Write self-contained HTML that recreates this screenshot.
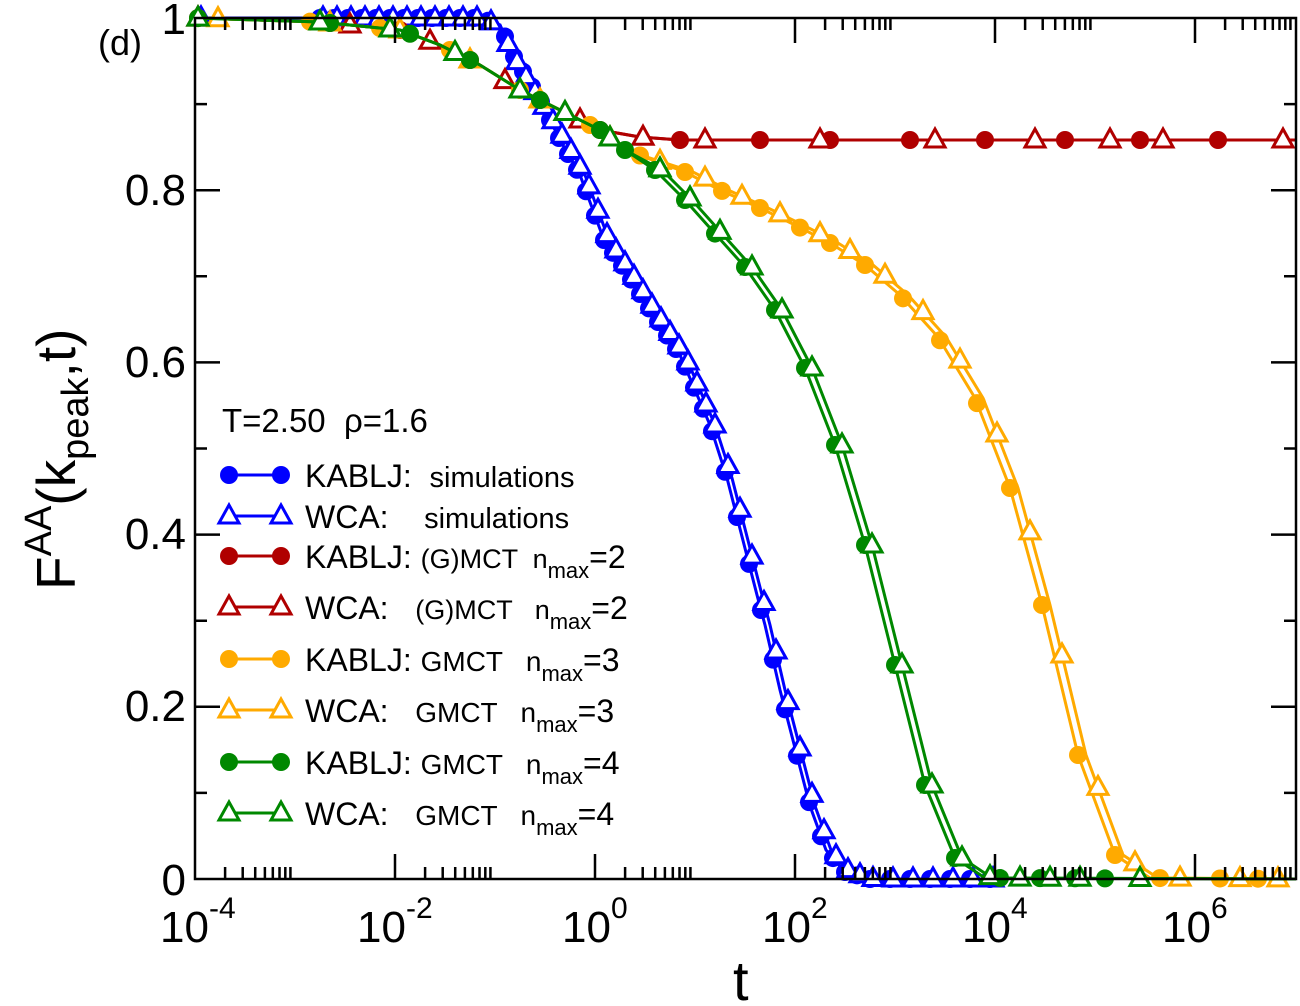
<!DOCTYPE html>
<html><head><meta charset="utf-8"><style>
html,body{margin:0;padding:0;background:#fff}
svg{display:block;font-family:"Liberation Sans",sans-serif}
text{white-space:pre}
</style></head><body>
<svg id="s" width="1300" height="1006" viewBox="0 0 1300 1006" xmlns="http://www.w3.org/2000/svg">
<g id="data"></g>
<g id="axes" fill="none" stroke="#000" stroke-width="2.5"></g>
<g font-size="44" fill="#000">
<text x="186" y="34" text-anchor="end">1</text>
<text x="186" y="205" text-anchor="end">0.8</text>
<text x="186" y="377" text-anchor="end">0.6</text>
<text x="186" y="549" text-anchor="end">0.4</text>
<text x="186" y="721" text-anchor="end">0.2</text>
<text x="186" y="895" text-anchor="end">0</text>
<text x="160" y="942">10<tspan font-size="30" dy="-24">-4</tspan></text>
<text x="357" y="942">10<tspan font-size="30" dy="-24">-2</tspan></text>
<text x="562" y="942">10<tspan font-size="30" dy="-24">0</tspan></text>
<text x="762" y="942">10<tspan font-size="30" dy="-24">2</tspan></text>
<text x="962" y="942">10<tspan font-size="30" dy="-24">4</tspan></text>
<text x="1162" y="942">10<tspan font-size="30" dy="-24">6</tspan></text>
</g>
<text x="98" y="55" font-size="36">(d)</text>
<text x="733" y="1000" font-size="56">t</text>
<g transform="translate(75,590) rotate(-90)"><text font-size="55">F<tspan font-size="38" dy="-24">AA</tspan><tspan dy="24">(k</tspan><tspan font-size="38" dy="13">peak</tspan><tspan dy="-13">,t)</tspan></text></g>
<text x="222" y="432" font-size="33">T=2.50  ρ=1.6</text>
<g id="leg"></g>
<g font-size="32" fill="#000">
<text x="305" y="487">KABLJ:  <tspan font-size="29">simulations</tspan></text>
<text x="305" y="528">WCA:    <tspan font-size="29">simulations</tspan></text>
<text x="305" y="568">KABLJ: <tspan font-size="27">(G)MCT  n</tspan><tspan font-size="22" dy="10">max</tspan><tspan font-size="32" dy="-10">=2</tspan></text>
<text x="305" y="619">WCA:   <tspan font-size="27">(G)MCT   n</tspan><tspan font-size="22" dy="10">max</tspan><tspan font-size="32" dy="-10">=2</tspan></text>
<text x="305" y="671">KABLJ: <tspan font-size="28">GMCT   n</tspan><tspan font-size="22" dy="10">max</tspan><tspan font-size="32" dy="-10">=3</tspan></text>
<text x="305" y="722">WCA:   <tspan font-size="28">GMCT   n</tspan><tspan font-size="22" dy="10">max</tspan><tspan font-size="32" dy="-10">=3</tspan></text>
<text x="305" y="774">KABLJ: <tspan font-size="28">GMCT   n</tspan><tspan font-size="22" dy="10">max</tspan><tspan font-size="32" dy="-10">=4</tspan></text>
<text x="305" y="825">WCA:   <tspan font-size="28">GMCT   n</tspan><tspan font-size="22" dy="10">max</tspan><tspan font-size="32" dy="-10">=4</tspan></text>
</g>
</svg>
<script>
var NS="http://www.w3.org/2000/svg";
function el(t,a,p){var e=document.createElementNS(NS,t);for(var k in a)e.setAttribute(k,a[k]);p.appendChild(e);return e;}
var ax=document.getElementById('axes');
el('rect',{x:195,y:18,width:1101,height:861},ax);
var d="";
for(var n=-4;n<=6;n+=2){var x=595+100*n;if(n>-4){d+="M"+x+" 879v-25M"+x+" 18v25";}
 for(var k=2;k<=9;k++){var xx=x+100*Math.log10(k);d+="M"+xx+" 879v-12M"+xx+" 18v12";}}
for(var i=1;i<10;i++){var y=879-86.1*i;var L=(i%2==0)?25:12;d+="M195 "+y+"h"+L+"M1296 "+y+"h-"+L;}
el('path',{d:d},ax);
var early=[[195,18],[320,22],[400,30],[440,45],[480,65],[520,90],[560,110],[600,130]];
var B=[[195,18],[480,18],[500,25],[513,55],[540,100],[560,140],[580,175],[604,240],[625,270],[650,310],[680,355],[710,425],[727,478],[748,560],[757,595],[765,625],[780,690],[810,806],[826,850],[845,872],[870,879],[1000,879]];
var R=early.concat([[640,137],[680,140],[1296,140]]);
var G=early.concat([[625,150],[655,170],[685,200],[710,228],[745,267],[775,310],[805,368],[835,445],[865,545],[895,665],[925,785],[955,858],[985,878],[1296,879]]);
var O=early.concat([[625,150],[685,172],[720,190],[760,208],[795,225],[830,243],[865,265],[900,295],[938,337],[975,398],[1010,488],[1042,605],[1078,755],[1115,855],[1150,878],[1296,879]]);
function shift(P,dx,from){return P.map(function(p){return p[0]>=from?[Math.min(1296,p[0]+dx),p[1]]:p;});}
function interp(P,x){for(var i=1;i<P.length;i++){if(x<=P[i][0]){var a=P[i-1],b=P[i];if(b[0]==a[0])return b[1];return a[1]+(b[1]-a[1])*(x-a[0])/(b[0]-a[0]);}}return P[P.length-1][1];}
var g=document.getElementById('data');
function tri(x,y,c,p){el('path',{d:"M"+x+" "+(y-11)+"L"+(x+10)+" "+(y+7)+"L"+(x-10)+" "+(y+7)+"Z",fill:"#fff",stroke:c,"stroke-width":3},p);}
function circ(x,y,c,p){el('circle',{cx:x,cy:y,r:9,fill:c},p);}
function series(P,c,xs,type){var pts=P.map(function(p){return p[0]+","+p[1]}).join(" ");
 el('polyline',{points:pts,fill:"none",stroke:c,"stroke-width":3},g);
 xs.forEach(function(x){var y=interp(P,x);if(type=='c')circ(x,y,c,g);else tri(x,y,c,g);});}
function rng(a,b,s){var r=[];for(var x=a;x<=b;x+=s)r.push(x);return r;}
var blueX=[198].concat(rng(320,500,14)).concat(rng(505,720,9)).concat(rng(725,860,12)).concat(rng(870,1000,20));
var BW=shift(B,5,560);
series(B,"#0000ff",blueX,'c');
series(BW,"#0000ff",blueX.map(function(x){return x+3}),'t');
series(R,"#b00000",[198,330,400,470,540,600,680,760,830,910,985,1065,1140,1218],'c');
series(shift(R,0,0),"#b00000",[198,350,430,505,580,643,705,820,935,1035,1110,1163,1283],'t');
var OX=[198,310,380,450,520,590,640,685,722,760,800,830,865,903,940,977,1010,1042,1078,1115,1160,1220,1258];
series(O,"#ffaa00",OX,'c');
series(shift(O,8,640),"#ffaa00",OX.map(function(x){return Math.min(1290,x+20)}),'t');
var GX=[198,330,410,470,540,600,625,655,685,715,745,775,805,835,865,895,925,955,1000,1040,1075,1105];
series(G,"#008800",GX,'c');
series(shift(G,7,640),"#008800",[198,320,390,455,520,565,610,660,690,720,752,782,812,842,872,902,932,962,990,1020,1050,1080,1140],'t');
var lg=document.getElementById('leg');
var rows=[[475,"#0000ff",'c'],[516,"#0000ff",'t'],[556,"#b00000",'c'],[607,"#b00000",'t'],[659,"#ffaa00",'c'],[710,"#ffaa00",'t'],[762,"#008800",'c'],[813,"#008800",'t']];
rows.forEach(function(r){el('line',{x1:229,y1:r[0],x2:281,y2:r[0],stroke:r[1],"stroke-width":3},lg);
 [229,281].forEach(function(x){if(r[2]=='c')circ(x,r[0],r[1],lg);else tri(x,r[0],r[1],lg);});});
</script>
</body></html>
